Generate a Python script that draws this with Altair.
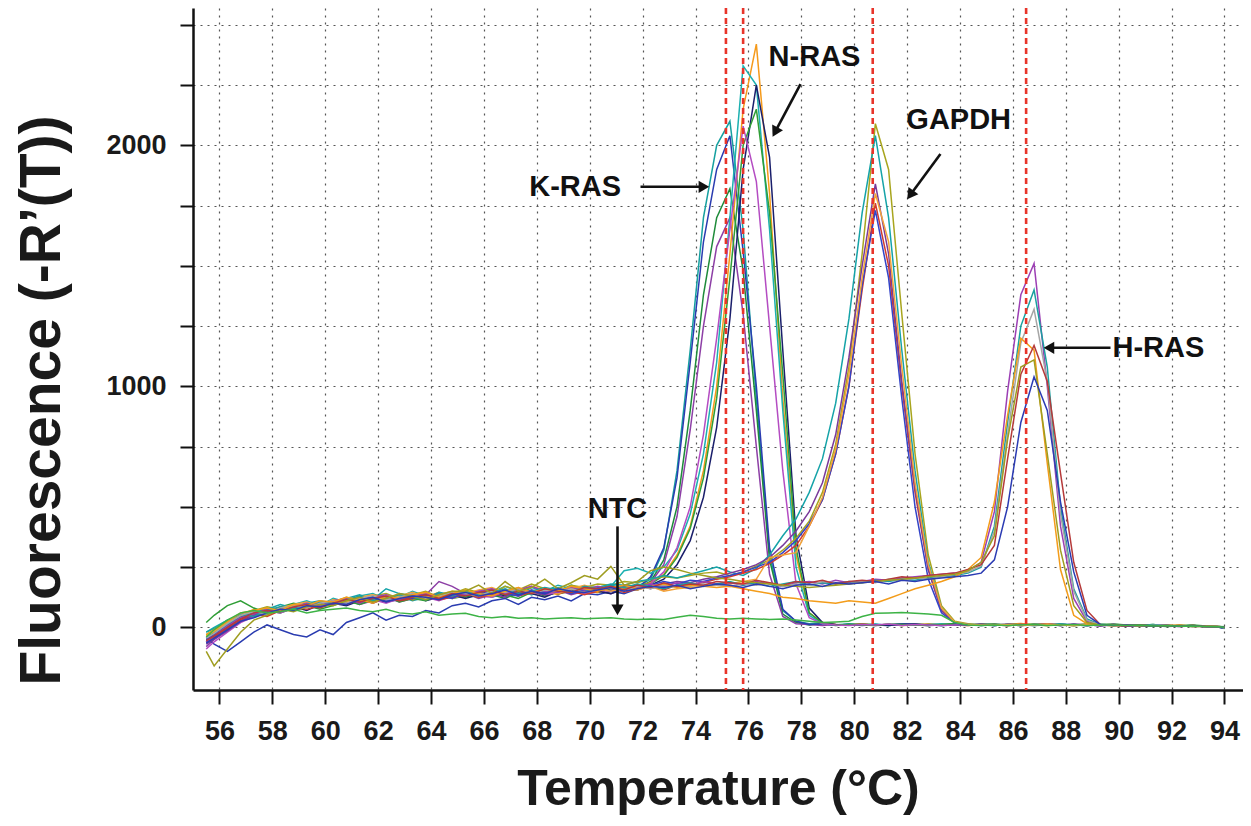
import altair as alt
import pandas as pd

# ---------------- data ----------------
temps = [
    55.5, 55.8, 56.3, 56.8, 57.3, 57.8, 58.3, 58.8, 59.3, 59.8,
    60.3, 60.8, 61.3, 61.8, 62.3, 62.8, 63.3, 63.8, 64.3, 64.8,
    65.3, 65.8, 66.3, 66.8, 67.3, 67.8, 68.3, 68.8, 69.3, 69.8,
    70.3, 70.8, 71.3, 71.8, 72.3, 72.8, 73.3, 73.8, 74.3, 74.8,
    75.3, 75.8, 76.3, 76.8, 77.3, 77.8, 78.3, 78.8, 79.3, 79.8,
    80.3, 80.8, 81.3, 81.8, 82.3, 82.8, 83.3, 83.8, 84.3, 84.8,
    85.3, 85.8, 86.3, 86.8, 87.3, 87.8, 88.3, 88.8, 89.3, 89.8,
    90.3, 90.8, 91.3, 91.8, 92.3, 92.8, 93.3, 93.8, 94.0,
]

kras_1 = [
    -40, -20, 15, 45, 60, 55, 80, 95, 85, 100,
    110, 95, 120, 105, 115, 130, 110, 125, 140, 120,
    130, 150, 125, 140, 155, 135, 150, 165, 140, 155,
    160, 150, 175, 170, 200, 320, 650, 1150, 1700, 2000,
    2100, 1650, 950, 300, 70, 25, 15, 20, 10, 15,
    10, 12, 8, 15, 10, 12, 8, 10, 14, 10,
    12, 8, 10, 12, 15, 10, 8, 12, 10, 8,
    10, 6, 8, 5, 8, 4, 6, 2, 0,
]
kras_2 = [
    -60, -30, 5, 35, 55, 70, 60, 80, 90, 85,
    95, 110, 100, 120, 105, 125, 115, 130, 120, 135,
    125, 140, 135, 120, 145, 150, 130, 145, 160, 150,
    145, 160, 155, 165, 190, 280, 500, 900, 1380, 1700,
    1820, 1480, 900, 280, 55, 20, 10, 15, 8, 12,
    15, 10, 12, 8, 14, 10, 12, 16, 10, 12,
    8, 12, 15, 10, 8, 12, 10, 14, 8, 10,
    6, 10, 8, 4, 6, 8, 3, 0, -5,
]
kras_3 = [
    -80, -50, -10, 30, 50, 65, 75, 70, 95, 90,
    100, 115, 95, 110, 125, 105, 120, 135, 190, 170,
    140, 120, 135, 150, 130, 145, 140, 155, 135, 150,
    155, 140, 160, 170, 185, 260, 460, 820, 1250, 1580,
    1700, 1300, 750, 220, 45, 15, 12, 8, 12, 10,
    12, 8, 10, 14, 10, 8, 12, 10, 8, 12,
    10, 14, 8, 10, 12, 8, 10, 12, 6, 10,
    8, 5, 10, 6, 4, 8, 5, 2, -2,
]
kras_4 = [
    -40, -70, -100, -60, -20, 10, -10, -30, -40, -10,
    -30, 20, 40, 60, 30, 50, 45, 70, 60, 90,
    100, 85, 110, 120, 95, 125, 115, 130, 110, 140,
    135, 150, 140, 160, 210, 330, 620, 1100, 1600, 1900,
    2040, 1560, 1000, 330, 75, 25, 12, 15, 10, 12,
    8, 12, 10, 15, 12, 8, 10, 12, 10, 14,
    12, 10, 8, 12, 10, 14, 10, 8, 12, 10,
    6, 8, 10, 5, 8, 6, 4, 0, -4,
]
nras_1 = [
    -40, -20, 20, 50, 75, 60, 85, 90, 80, 105,
    95, 115, 125, 100, 120, 135, 115, 125, 145, 120,
    135, 150, 130, 145, 165, 140, 150, 135, 160, 150,
    145, 165, 150, 170, 185, 220, 300, 420, 650, 1000,
    1550, 2150, 2420, 1800, 950, 300, 60, 20, 12, 10,
    14, 10, 12, 8, 10, 15, 12, 10, 8, 12,
    10, 12, 16, 10, 8, 12, 10, 12, 10, 8,
    10, 8, 6, 10, 5, 8, 4, 2, 0,
]
nras_2 = [
    -20, 0, 30, 45, 65, 80, 70, 95, 110, 90,
    120, 105, 130, 140, 115, 125, 150, 130, 120, 140,
    155, 130, 145, 170, 150, 135, 160, 145, 175, 155,
    150, 170, 235, 245, 225, 250, 320, 470, 720, 1100,
    1700, 2330, 2250, 1650, 900, 250, 50, 15, 10, 12,
    10, 14, 8, 12, 10, 12, 15, 10, 12, 8,
    12, 10, 8, 14, 10, 12, 8, 10, 12, 10,
    8, 10, 5, 8, 6, 4, 6, 2, -3,
]
nras_3 = [
    -50, -40, 0, 35, 50, 60, 75, 85, 70, 95,
    100, 90, 110, 120, 105, 115, 130, 110, 125, 135,
    120, 135, 145, 130, 150, 140, 125, 150, 145, 160,
    150, 140, 160, 155, 175, 200, 260, 360, 540, 830,
    1280, 1900, 2250, 1950, 1150, 380, 80, 20, 12, 10,
    12, 10, 8, 12, 14, 10, 8, 12, 10, 10,
    8, 12, 10, 10, 14, 8, 12, 10, 8, 12,
    10, 6, 8, 5, 6, 8, 4, 2, 0,
]
nras_4 = [
    20, 50, 90, 110, 80, 60, 85, 100, 90, 75,
    90, 110, 95, 115, 130, 105, 120, 110, 135, 125,
    140, 125, 150, 135, 120, 145, 160, 140, 150, 165,
    155, 170, 160, 175, 180, 215, 290, 410, 620, 950,
    1450, 2000, 2150, 1720, 1050, 330, 60, 18, 10, 12,
    10, 8, 14, 12, 10, 8, 12, 15, 10, 12,
    14, 10, 12, 8, 10, 12, 10, 8, 12, 14,
    10, 8, 12, 6, 8, 10, 6, 4, 2,
]
nras_5 = [
    -90, -60, -20, 20, 45, 70, 60, 80, 95, 85,
    110, 100, 125, 115, 100, 120, 135, 125, 110, 130,
    145, 130, 125, 150, 140, 155, 135, 145, 160, 140,
    155, 150, 170, 165, 180, 230, 330, 500, 800, 1200,
    1650, 2080, 1850, 1250, 650, 180, 40, 15, 10, 8,
    12, 10, 14, 8, 12, 10, 8, 10, 12, 10,
    10, 8, 12, 10, 14, 10, 12, 8, 10, 12,
    8, 6, 10, 8, 4, 6, 5, 3, 0,
]
gapdh_1 = [
    -30, -10, 25, 55, 70, 85, 75, 90, 100, 95,
    105, 125, 110, 130, 140, 120, 135, 150, 125, 140,
    160, 145, 135, 170, 155, 180, 160, 150, 175, 165,
    180, 175, 190, 185, 200, 210, 205, 215, 225, 230,
    215, 230, 255, 280, 320, 370, 440, 560, 760, 1080,
    1550, 2090, 1900, 1300, 720, 300, 90, 25, 15, 10,
    12, 8, 10, 14, 10, 12, 8, 10, 12, 10,
    8, 10, 6, 8, 5, 6, 4, 2, 0,
]
gapdh_2 = [
    -40, -25, 10, 40, 65, 75, 95, 80, 100, 110,
    100, 120, 135, 115, 160, 140, 130, 120, 145, 135,
    150, 140, 160, 145, 135, 165, 150, 175, 160, 170,
    165, 180, 175, 190, 200, 215, 205, 220, 235, 250,
    230, 215, 245, 300, 380, 450, 560, 700, 930, 1280,
    1720, 2040, 1700, 1150, 650, 270, 80, 20, 12, 10,
    10, 12, 8, 12, 10, 14, 10, 8, 12, 10,
    10, 8, 6, 10, 6, 5, 4, 2, -2,
]
gapdh_3 = [
    -60, -40, -5, 30, 55, 45, 70, 85, 75, 90,
    100, 95, 115, 105, 125, 110, 120, 135, 115, 125,
    140, 125, 135, 150, 130, 145, 155, 140, 150, 135,
    150, 165, 145, 160, 170, 155, 175, 180, 185, 200,
    210, 225, 240, 265, 300, 340, 420, 530, 720, 1000,
    1400, 1760, 1500, 1000, 560, 240, 70, 20, 10, 12,
    10, 8, 12, 10, 14, 10, 8, 12, 10, 8,
    6, 10, 8, 5, 8, 4, 6, 2, 0,
]
gapdh_4 = [
    -70, -50, -15, 25, 50, 65, 80, 70, 90, 100,
    95, 110, 120, 100, 125, 115, 130, 120, 140, 125,
    135, 150, 140, 125, 155, 145, 135, 160, 150, 145,
    160, 150, 165, 175, 160, 180, 190, 185, 200, 210,
    225, 240, 260, 290, 340, 400, 480, 600, 800, 1120,
    1500, 1840, 1550, 1020, 580, 240, 70, 20, 12, 8,
    12, 10, 8, 12, 10, 8, 14, 10, 8, 12,
    8, 6, 10, 6, 8, 5, 4, 2, 0,
]
gapdh_5 = [
    -50, -30, 5, 40, 60, 55, 75, 90, 85, 95,
    105, 100, 115, 130, 110, 125, 120, 140, 130, 120,
    145, 135, 150, 140, 130, 155, 145, 160, 140, 155,
    165, 150, 170, 160, 175, 190, 180, 195, 190, 205,
    215, 230, 250, 270, 310, 360, 430, 530, 720, 1000,
    1420, 1730, 1450, 950, 500, 200, 60, 18, 10, 12,
    8, 12, 10, 8, 12, 10, 12, 8, 10, 10,
    8, 6, 8, 10, 5, 6, 4, 0, -3,
]
gapdh_6 = [
    -35, -15, 20, 50, 70, 60, 80, 95, 105, 90,
    115, 105, 125, 135, 120, 130, 145, 125, 135, 150,
    140, 155, 165, 145, 150, 170, 155, 140, 160, 175,
    160, 150, 165, 155, 170, 150, 160, 165, 170, 175,
    180, 190, 200, 290, 300, 310, 420, 540, 740, 1050,
    1450, 1800, 1600, 1080, 600, 260, 80, 22, 12, 10,
    10, 12, 8, 10, 14, 10, 8, 12, 10, 8,
    10, 8, 5, 8, 6, 4, 5, 2, 0,
]
hras_1 = [
    -60, -35, 5, 40, 55, 75, 65, 85, 100, 90,
    110, 120, 100, 125, 135, 115, 130, 140, 125, 145,
    135, 150, 160, 140, 155, 170, 150, 145, 165, 155,
    170, 160, 175, 165, 180, 170, 185, 175, 190, 180,
    185, 175, 190, 180, 170, 185, 190, 180, 195, 185,
    190, 200, 195, 205, 210, 215, 220, 225, 235, 270,
    480, 980, 1380, 1510, 1000, 420, 120, 25, 12, 10,
    8, 10, 6, 8, 5, 6, 4, 2, 0,
]
hras_2 = [
    -20, -5, 30, 55, 45, 70, 85, 75, 95, 105,
    100, 115, 130, 110, 120, 135, 125, 115, 140, 130,
    150, 135, 145, 160, 140, 150, 165, 155, 145, 170,
    160, 175, 165, 180, 170, 160, 175, 185, 170, 180,
    190, 175, 185, 170, 180, 190, 175, 185, 180, 190,
    185, 195, 190, 200, 195, 205, 210, 215, 225, 250,
    420, 850, 1250, 1400, 1080, 500, 160, 35, 12, 10,
    10, 8, 12, 6, 8, 5, 6, 3, 0,
]
hras_3 = [
    -45, -25, 15, 50, 65, 55, 80, 90, 80, 100,
    110, 100, 120, 130, 115, 125, 140, 120, 130, 145,
    140, 130, 150, 145, 160, 140, 155, 150, 160, 145,
    155, 165, 150, 170, 160, 175, 165, 170, 180, 175,
    170, 180, 175, 185, 170, 180, 175, 190, 185, 180,
    190, 185, 200, 195, 205, 200, 210, 220, 230, 255,
    400, 800, 1180, 1320, 1020, 470, 150, 30, 10, 8,
    10, 6, 8, 10, 5, 8, 4, 2, -2,
]
hras_4 = [
    -30, -10, 25, 60, 70, 80, 70, 95, 90, 110,
    105, 125, 115, 100, 130, 120, 135, 145, 125, 140,
    155, 140, 130, 150, 165, 145, 160, 150, 170, 160,
    150, 165, 175, 160, 170, 180, 165, 175, 170, 165,
    170, 160, 150, 140, 125, 120, 110, 105, 100, 110,
    105, 100, 120, 140, 160, 175, 190, 210, 240, 290,
    520, 880, 1200, 1150, 680, 240, 50, 15, 10, 8,
    10, 8, 6, 8, 10, 5, 6, 3, 0,
]
hras_5 = [
    -55, -35, 0, 35, 60, 70, 65, 85, 95, 80,
    100, 115, 105, 120, 130, 110, 125, 135, 120, 140,
    130, 145, 155, 135, 150, 140, 160, 150, 145, 165,
    160, 170, 155, 175, 165, 185, 170, 180, 175, 190,
    185, 180, 195, 185, 175, 190, 185, 195, 180, 190,
    195, 190, 200, 210, 205, 215, 220, 225, 240, 260,
    340, 700, 1050, 1170, 1020, 640, 270, 70, 12, 10,
    8, 10, 6, 8, 5, 8, 4, 2, 0,
]
hras_6 = [
    -100, -160, -90, -20, 30, 50, 75, 65, 85, 95,
    90, 110, 125, 105, 120, 140, 130, 115, 135, 150,
    150, 175, 140, 190, 150, 165, 200, 160, 185, 215,
    200, 253, 175, 190, 235, 250, 240, 225, 215, 205,
    200, 190, 185, 180, 175, 170, 165, 170, 175, 180,
    185, 190, 195, 200, 205, 210, 215, 220, 235, 270,
    380, 780, 1080, 1110, 720, 320, 90, 20, 10, 8,
    10, 6, 8, 5, 8, 6, 4, 2, -2,
]
hras_7 = [
    -65, -45, -10, 25, 40, 60, 75, 70, 90, 85,
    100, 95, 115, 125, 105, 120, 130, 125, 115, 135,
    145, 130, 140, 155, 135, 150, 140, 160, 150, 145,
    155, 165, 150, 160, 170, 165, 175, 160, 170, 180,
    175, 165, 180, 170, 160, 175, 180, 170, 185, 180,
    185, 190, 180, 195, 190, 200, 205, 210, 215, 225,
    280, 500, 850, 1040, 900, 520, 230, 50, 12, 8,
    10, 8, 6, 8, 5, 6, 4, 2, 0,
]
ntc = [
    -40, -10, 30, 60, 70, 60, 65, 75, 60, 70,
    75, 80, 70, 65, 75, 60, 55, 65, 50, 55,
    58, 45, 40, 45, 38, 40, 35, 38, 40, 36,
    38, 40, 35, 33, 35, 33, 42, 50, 45, 38,
    35, 38, 35, 33, 35, 30, 25, 20, 22, 25,
    45, 58, 60, 62, 58, 55, 50, 20, 10, 8,
    10, 8, 10, 12, 8, 10, 12, 8, 10, 10,
    8, 10, 6, 8, 5, 6, 4, 2, 0,
]

series = {
    "K-RAS 1": kras_1, "K-RAS 2": kras_2, "K-RAS 3": kras_3, "K-RAS 4": kras_4,
    "N-RAS 1": nras_1, "N-RAS 2": nras_2, "N-RAS 3": nras_3, "N-RAS 4": nras_4,
    "N-RAS 5": nras_5,
    "GAPDH 1": gapdh_1, "GAPDH 2": gapdh_2, "GAPDH 3": gapdh_3, "GAPDH 4": gapdh_4,
    "GAPDH 5": gapdh_5, "GAPDH 6": gapdh_6,
    "H-RAS 1": hras_1, "H-RAS 2": hras_2, "H-RAS 3": hras_3, "H-RAS 4": hras_4,
    "H-RAS 5": hras_5, "H-RAS 6": hras_6, "H-RAS 7": hras_7,
    "NTC": ntc,
}
series_colors = [
    "#16a0a0", "#1e8b3a", "#8d3fa6", "#2a3cb0",
    "#f59a1b", "#1cb0b0", "#1a1f6b", "#2f9e36", "#b44cc2",
    "#a8a51e", "#15a3a8", "#d13b2e", "#7a3a9a", "#3344c8", "#f2a33a",
    "#9c3fb4", "#1aa0a0", "#a5a5a5", "#f39c1a", "#b53a3a", "#9f9d20", "#2b3bb3",
    "#3db346",
]

# melting-temperature markers (red dashed)
tm_marks = [75.15, 75.8, 80.7, 86.5]

# annotations
ann_labels = ["N-RAS", "GAPDH", "K-RAS", "H-RAS", "NTC"]
ann_text_t = [78.5, 83.95, 69.45, 91.5, 71.05]
ann_text_v = [2365, 2105, 1828, 1160, 489]
ann_from_t = [77.97, 83.26, 71.92, 89.69, 71.05]
ann_from_v = [2254, 1964, 1828, 1160, 419]
ann_head_t = [77.04, 82.16, 74.25, 87.43, 71.05]
ann_head_v = [2062, 1800, 1828, 1160, 80]
ann_angle = [208, 216, 90, 270, 180]

x_ticks = [56, 58, 60, 62, 64, 66, 68, 70, 72, 74, 76, 78, 80, 82, 84, 86, 88, 90, 92, 94]
y_ticks = [0, 250, 500, 750, 1000, 1250, 1500, 1750, 2000, 2250, 2500]

# ---------------- build tables ----------------
rows = []
for name, vals in series.items():
    assert len(vals) == len(temps), (name, len(vals))
    for t, v in zip(temps, vals):
        rows.append({"series": name, "temp": t, "value": v})
df = pd.DataFrame(rows)

ann = pd.DataFrame({
    "label": ann_labels,
    "temp": ann_text_t, "value": ann_text_v,
    "t0": ann_from_t, "v0": ann_from_v,
    "t1": ann_head_t, "v1": ann_head_v,
    "angle": ann_angle,
})
tm_df = pd.DataFrame({"temp": tm_marks})

# ---------------- styling ----------------
FONT = "'Liberation Sans', Arial, Helvetica, sans-serif"

xscale = alt.Scale(domain=[55.0, 94.7], nice=False, zero=False)
yscale = alt.Scale(domain=[-260, 2570], nice=False, zero=False)

xaxis = alt.Axis(
    values=x_ticks, title="Temperature (°C)", grid=True,
    gridDash=[2, 5], gridColor="#555555", gridWidth=1.2,
    domainColor="#111111", domainWidth=2.5,
    tickColor="#111111", tickWidth=2, tickSize=14,
    labelFont=FONT, labelFontSize=27, labelFontWeight="bold", labelColor="#1a1a1a",
    labelPadding=14, labelFlush=False,
    titleFont=FONT, titleFontSize=50, titleFontWeight="bold", titleColor="#1a1a1a",
    titleBaseline="middle", titleY=99,
)
yaxis = alt.Axis(
    values=y_ticks, format="d",
    labelExpr="datum.value % 1000 == 0 ? datum.label : ''",
    title="Fluorescence (-R’(T))", grid=True,
    gridDash=[2, 5], gridColor="#555555", gridWidth=1.2,
    domainColor="#111111", domainWidth=2.5,
    tickColor="#111111", tickWidth=2, tickSize=13,
    labelFont=FONT, labelFontSize=27, labelFontWeight="bold", labelColor="#1a1a1a",
    labelPadding=14, labelFlush=False,
    titleFont=FONT, titleFontSize=57, titleFontWeight="bold", titleColor="#1a1a1a",
    titleBaseline="middle", titleAlign="center", titleX=-151, titleY=392, titleAngle=270,
)

names = list(series.keys())

lines = alt.Chart(df).mark_line(strokeWidth=1.5, clip=True).encode(
    x=alt.X("temp:Q", scale=xscale, axis=xaxis),
    y=alt.Y("value:Q", scale=yscale, axis=yaxis),
    color=alt.Color("series:N", scale=alt.Scale(domain=names, range=series_colors), legend=None),
    detail="series:N",
)

red = alt.Chart(tm_df).mark_rule(color="#e8342a", strokeWidth=2.6, strokeDash=[6, 4]).encode(
    x=alt.X("temp:Q", scale=xscale, axis=xaxis),
)

arrows = alt.Chart(ann).mark_rule(color="#111111", strokeWidth=2.6).encode(
    x=alt.X("t0:Q", scale=xscale, axis=xaxis),
    y=alt.Y("v0:Q", scale=yscale, axis=yaxis),
    x2="t1:Q",
    y2="v1:Q",
)

heads = alt.Chart(ann).mark_point(shape="triangle", filled=True, size=150, color="#111111", opacity=1).encode(
    x=alt.X("t1:Q", scale=xscale, axis=xaxis),
    y=alt.Y("v1:Q", scale=yscale, axis=yaxis),
    angle=alt.Angle("angle:Q", scale=None),
)

labels = alt.Chart(ann).mark_text(font=FONT, fontSize=29, fontWeight="bold", color="#111111",
                                  align="center", baseline="middle").encode(
    x=alt.X("temp:Q", scale=xscale, axis=xaxis),
    y=alt.Y("value:Q", scale=yscale, axis=yaxis),
    text="label:N",
)

chart = alt.layer(lines, red, arrows, heads, labels).properties(
    width=1050, height=682,
    autosize=alt.AutoSizeParams(type="none"),
    padding={"left": 185, "top": 0, "right": 0, "bottom": 127},
    background="white",
).configure_view(stroke=None)

chart.save("out.html", embed_options={"renderer": "svg", "actions": False})
